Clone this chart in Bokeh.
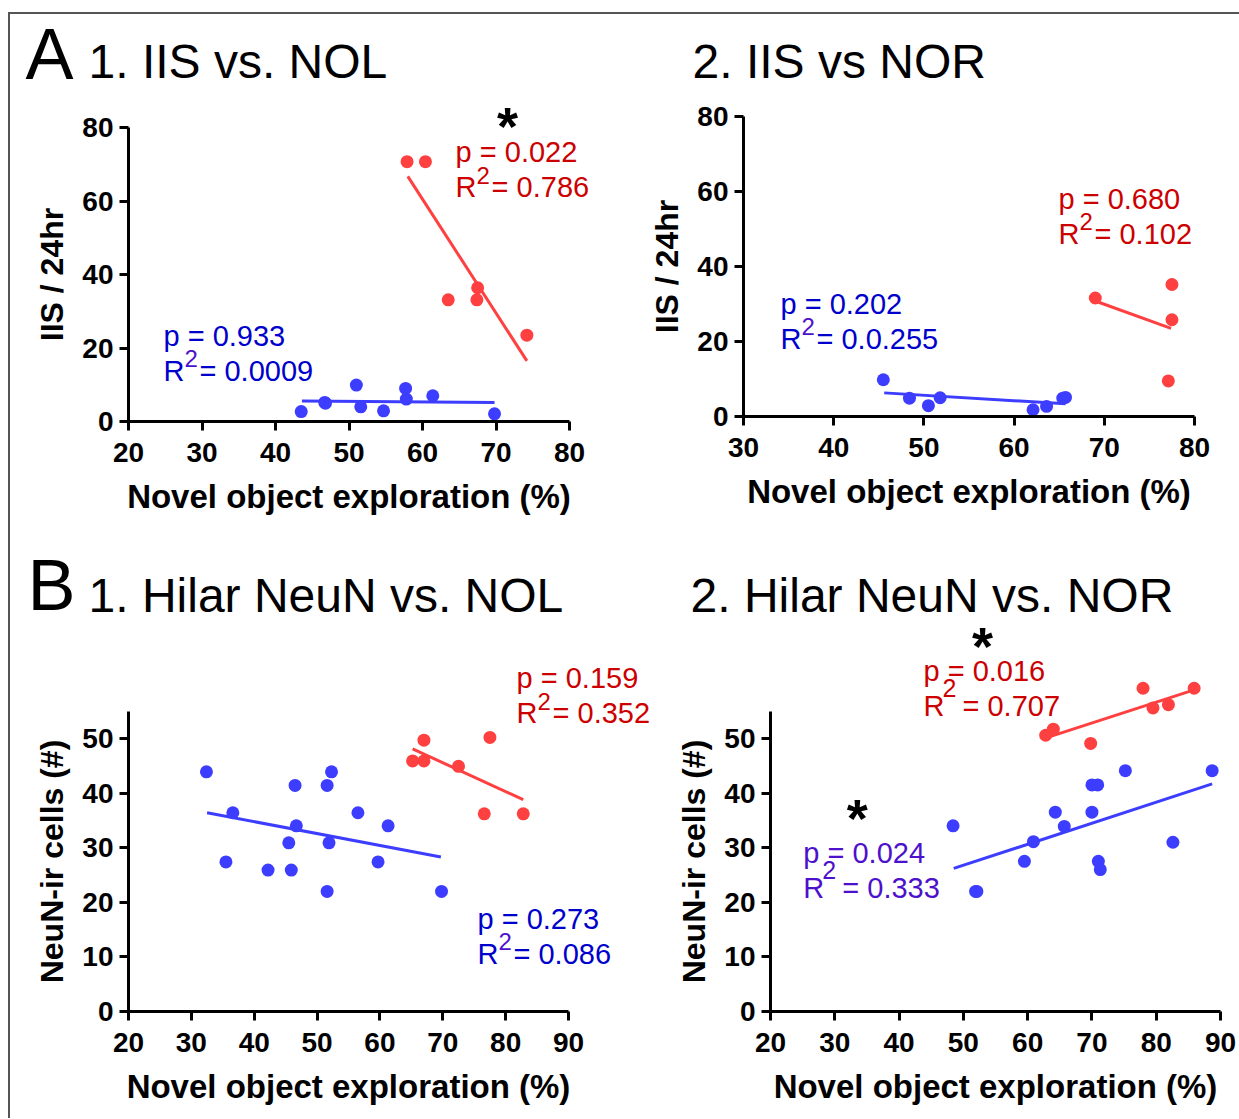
from bokeh.plotting import figure
from bokeh.models import Range1d, Label, FixedTicker
from bokeh.layouts import row, column
from bokeh.embed import file_html
from bokeh.resources import INLINE

FONT = "Liberation Sans"
RED_PT = "#ff4040"
BLUE_PT = "#3d3dff"
RED_TXT = "#cc0000"
BLUE_TXT = "#0000cc"
PURPLE_TXT = "#4d10cc"

# ---------------- data ----------------
# A1: IIS vs NOL
a1_blue_x = [43.5, 46.7, 46.8, 51.0, 51.6, 54.7, 57.7, 57.8, 61.4, 69.8]
a1_blue_y = [2.7, 5.2, 5.0, 9.9, 4.0, 2.9, 9.0, 6.1, 7.0, 2.1]
a1_blue_fit_x = [43.6, 69.8]
a1_blue_fit_y = [5.6, 5.2]
a1_red_x = [57.9, 60.4, 63.5, 67.5, 67.4, 74.2]
a1_red_y = [70.7, 70.7, 33.1, 36.4, 33.1, 23.5]
a1_red_fit_x = [58.0, 74.2]
a1_red_fit_y = [66.7, 16.5]

# A2: IIS vs NOR
a2_blue_x = [45.5, 48.4, 50.5, 51.8, 62.1, 63.6, 65.4, 65.7]
a2_blue_y = [9.8, 4.9, 2.9, 5.0, 1.8, 2.7, 4.9, 5.1]
a2_blue_fit_x = [45.6, 65.7]
a2_blue_fit_y = [6.3, 3.4]
a2_red_x = [69.0, 77.5, 77.5, 77.1]
a2_red_y = [31.6, 35.2, 25.8, 9.5]
a2_red_fit_x = [69.0, 77.4]
a2_red_fit_y = [30.8, 23.5]

# B1: Hilar NeuN vs NOL
b1_blue_x = [32.4, 36.6, 35.5, 42.2, 45.9, 45.5, 46.5, 46.7, 51.6, 52.3, 51.9, 51.6, 56.5, 59.7, 61.3, 69.8]
b1_blue_y = [43.9, 36.4, 27.4, 25.9, 25.9, 30.9, 41.4, 34.0, 41.4, 43.9, 30.9, 22.0, 36.4, 27.4, 34.0, 22.0]
b1_blue_fit_x = [32.5, 69.7]
b1_blue_fit_y = [36.4, 28.3]
b1_red_x = [65.2, 67.0, 67.0, 72.5, 77.5, 76.6, 82.8]
b1_red_y = [45.9, 49.7, 45.9, 44.9, 50.2, 36.2, 36.2]
b1_red_fit_x = [65.2, 82.8]
b1_red_fit_y = [48.1, 38.8]

# B2: Hilar NeuN vs NOR
b2_blue_x = [48.4, 51.9, 52.1, 59.5, 60.9, 64.3, 65.7, 70.0, 70.9, 70.0, 71.0, 71.3, 75.2, 82.6, 88.7]
b2_blue_y = [34.0, 22.0, 22.0, 27.5, 31.1, 36.5, 33.9, 41.5, 41.5, 36.5, 27.5, 26.0, 44.1, 31.0, 44.1]
b2_blue_fit_x = [48.5, 88.7]
b2_blue_fit_y = [26.2, 41.7]
b2_red_x = [77.95, 85.9, 79.5, 81.9, 62.8, 64.0, 69.8]
b2_red_y = [59.2, 59.2, 55.6, 56.2, 50.6, 51.7, 49.1]
b2_red_fit_x = [63.1, 85.9]
b2_red_fit_y = [50.2, 58.9]

XLABEL = "Novel object exploration (%)"


def span(va, pa, vb, pb, start, length):
    """data values at the two ends of a canvas side, from two pixel anchors"""
    k = (pb - pa) / (vb - va)
    v0 = va + (start - pa) / k
    v1 = va + (start + length - pa) / k
    return (min(v0, v1), max(v0, v1))


def make_fig(ox, oy, w, h, xmap, ymap, xb, yb, xt, yt, ylabel):
    xr = span(*xmap, ox, w)
    yr = span(*ymap, oy, h)
    p = figure(width=w, height=h, x_range=Range1d(*xr), y_range=Range1d(*yr),
               output_backend="svg", toolbar_location=None, title=None,
               min_border_left=0, min_border_right=0, min_border_top=0, min_border_bottom=0)
    p.outline_line_color = None
    p.grid.visible = False
    p.background_fill_color = "white"
    p.border_fill_color = "white"
    p.xaxis.ticker = FixedTicker(ticks=xt)
    p.yaxis.ticker = FixedTicker(ticks=yt)
    p.xaxis.fixed_location = yb[0]
    p.yaxis.fixed_location = xb[0]
    p.xaxis.bounds = xb
    p.yaxis.bounds = yb
    for ax in p.axis:
        ax.axis_line_width = 3
        ax.axis_line_color = "black"
        ax.major_tick_line_width = 3
        ax.major_tick_line_color = "black"
        ax.major_tick_out = 9
        ax.major_tick_in = 0
        ax.minor_tick_line_color = None
        ax.major_label_text_font = FONT
        ax.major_label_text_font_style = "bold"
        ax.major_label_text_font_size = "28px"
        ax.major_label_text_color = "black"
        ax.axis_label_text_font = FONT
        ax.axis_label_text_font_style = "bold"
        ax.axis_label_text_font_size = "32px"
        ax.axis_label_text_color = "black"
    p.xaxis.axis_label_text_font_size = "33px"
    p.xaxis.axis_label = XLABEL
    p.yaxis.axis_label = ylabel
    p.xaxis.major_label_standoff = 12
    p.yaxis.major_label_standoff = 6
    p.xaxis.axis_label_standoff = 13
    p.yaxis.axis_label_standoff = 9
    return p


def series(p, x, y, fx, fy, color):
    p.line(fx, fy, line_width=3, line_color=color)
    p.scatter(x, y, size=13, fill_color=color, line_color=None)


def txt(p, x, y, s, color, size, xo=0, yo=0, bold=False, align="left"):
    p.add_layout(Label(x=x, y=y, x_offset=xo, y_offset=yo, text=s, text_color=color,
                       text_font=FONT, text_font_size=size,
                       text_font_style="bold" if bold else "normal",
                       text_baseline="middle", text_align=align))


def stats(p, x, y, pstr, rstr, color, supcolor, style="sup"):
    txt(p, x, y, pstr, color, "29px")
    txt(p, x, y, "R", color, "29px", yo=-35)
    if style == "sup":
        txt(p, x, y, "2", supcolor, "24px", xo=21, yo=-23)
        txt(p, x, y, rstr, color, "29px", xo=36, yo=-35)
    else:
        txt(p, x, y, "2", supcolor, "25px", xo=19, yo=-17)
        txt(p, x, y, rstr, color, "29px", xo=39, yo=-35)


def star(p, x, y):
    txt(p, x, y, "*", "black", "54px", bold=True, align="center", yo=-7)


def title(p, x, y, letter_x, letter_y, letter, s):
    if letter:
        txt(p, letter_x, letter_y, letter, "black", "72px")
    txt(p, x, y, s, "black", "48px")


# page-pixel anchors of the axes (value, pixel, value, pixel)
A1X = (20, 128, 80, 569)
A1Y = (0, 421, 80, 127)
A2X = (30, 743, 80, 1194)
A2Y = (0, 416, 80, 116)
B1X = (20, 128, 90, 568)
B1Y = (0, 1011, 50, 738)
B2X = (20, 770, 90, 1220)
B2Y = (0, 1011, 50, 738)

TOP_H = 526
BOT_H = 578

# A1
f1 = make_fig(10, 14, 618, TOP_H, A1X, A1Y, (20, 80), (0, 80),
              [20, 30, 40, 50, 60, 70, 80], [0, 20, 40, 60, 80], "IIS / 24hr")
series(f1, a1_blue_x, a1_blue_y, a1_blue_fit_x, a1_blue_fit_y, BLUE_PT)
series(f1, a1_red_x, a1_red_y, a1_red_fit_x, a1_red_fit_y, RED_PT)
stats(f1, 24.76, 23.4, "p = 0.933", "= 0.0009", BLUE_TXT, PURPLE_TXT)
stats(f1, 64.5, 73.2, "p = 0.022", "= 0.786", RED_TXT, RED_TXT)
star(f1, 71.56, 82.4)
title(f1, 14.56, 97.96, 5.99, 99.9, "A", "1. IIS vs. NOL")

# A2
f2 = make_fig(628, 14, 611, TOP_H, A2X, A2Y, (30, 80), (0, 80),
              [30, 40, 50, 60, 70, 80], [0, 20, 40, 60, 80], "IIS / 24hr")
series(f2, a2_blue_x, a2_blue_y, a2_blue_fit_x, a2_blue_fit_y, BLUE_PT)
series(f2, a2_red_x, a2_red_y, a2_red_fit_x, a2_red_fit_y, RED_PT)
stats(f2, 34.1, 30.1, "p = 0.202", "= 0.0.255", BLUE_TXT, PURPLE_TXT)
stats(f2, 64.92, 58.1, "p = 0.680", "= 0.102", RED_TXT, RED_TXT)
title(f2, 24.35, 94.67, 0, 0, None, "2. IIS vs NOR")

# B1
f3 = make_fig(10, 14 + TOP_H, 650, BOT_H, B1X, B1Y, (20, 90), (0, 55),
              [20, 30, 40, 50, 60, 70, 80, 90], [0, 10, 20, 30, 40, 50], "NeuN-ir cells (#)")
series(f3, b1_blue_x, b1_blue_y, b1_blue_fit_x, b1_blue_fit_y, BLUE_PT)
series(f3, b1_red_x, b1_red_y, b1_red_fit_x, b1_red_fit_y, RED_PT)
stats(f3, 75.52, 17.0, "p = 0.273", "= 0.086", BLUE_TXT, PURPLE_TXT)
stats(f3, 81.73, 61.0, "p = 0.159", "= 0.352", RED_TXT, RED_TXT)
title(f3, 13.64, 76.1, 3.93, 78.1, "B", "1. Hilar NeuN vs. NOL")

# B2
f4 = make_fig(660, 14 + TOP_H, 579, BOT_H, B2X, B2Y, (20, 90), (0, 55),
              [20, 30, 40, 50, 60, 70, 80, 90], [0, 10, 20, 30, 40, 50], "NeuN-ir cells (#)")
series(f4, b2_blue_x, b2_blue_y, b2_blue_fit_x, b2_blue_fit_y, BLUE_PT)
series(f4, b2_red_x, b2_red_y, b2_red_fit_x, b2_red_fit_y, RED_PT)
stats(f4, 25.1, 29.05, "p = 0.024", "= 0.333", PURPLE_TXT, PURPLE_TXT, style="sub")
stats(f4, 43.8, 62.3, "p = 0.016", "= 0.707", RED_TXT, RED_TXT, style="sub")
star(f4, 52.97, 68.2)
star(f4, 33.5, 36.7)
title(f4, 7.56, 76.1, 0, 0, None, "2. Hilar NeuN vs. NOR")

layout = column(row(f1, f2), row(f3, f4),
                styles={"border-left": "2px solid #555555", "border-top": "2px solid #555555",
                        "margin-top": "12px", "margin-left": "8px"})

open("out.html", "w").write(file_html(layout, INLINE))
